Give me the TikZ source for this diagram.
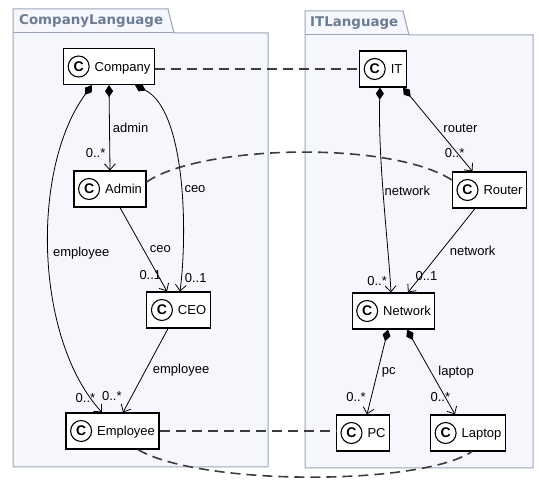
\documentclass[tikz,border=0pt]{standalone}
\usepackage{fontspec}
\setmainfont{Liberation Sans}
\newfontfamily\pkgfont{DejaVu Sans}
\usetikzlibrary{arrows.meta}
\definecolor{pkgFill}{HTML}{F6F7FC}
\definecolor{pkgLine}{HTML}{9AA6B8}
\definecolor{pkgText}{HTML}{6B7C93}
\definecolor{linkGray}{HTML}{3C3C3C}
\newcommand{\classicon}{\tikz[baseline=(ic.base)]\node[circle,draw,line width=1.1pt,fill=white,inner sep=0pt,minimum size=21pt,font=\fontsize{14}{14}\bfseries\selectfont] (ic) {C};}

\begin{document}
\begin{tikzpicture}[x=1pt,y=-1pt,>=latex,
  class/.style={draw, line width=1.2pt, fill=white, minimum height=36pt, inner xsep=4pt, font=\fontsize{13}{15}\selectfont},
  lbl/.style={font=\fontsize{13}{15}\selectfont, inner sep=1pt},
  comp/.style={{Diamond[length=12pt,width=8pt]}-{Straight Barb[length=6pt,width=11pt]}, line width=0.8pt},
  assoc/.style={-{Straight Barb[length=6pt,width=11pt]}, line width=0.8pt},
  trace/.style={draw=linkGray, line width=1.6pt, dash pattern=on 10pt off 6pt},
  pkg/.style={draw=pkgLine, fill=pkgFill, line width=1pt},
  pkgtitle/.style={anchor=west, inner sep=0pt, text=pkgText, font=\pkgfont\bfseries\fontsize{13.4}{15}\selectfont}]
  \useasboundingbox (0,0) rectangle (539,481);
  % packages
  \draw[pkg] (13,467) -- (13,9) -- (168,9) -- (174,33) -- (268,33) -- (268,467) -- cycle;
  \draw[pkg] (13,33) -- (174,33);
  \node[pkgtitle] (companyTitle) at (19,21) {CompanyLanguage};
  \draw[pkg] (305,468) -- (305,11) -- (403,11) -- (409,35) -- (533,35) -- (533,468) -- cycle;
  \draw[pkg] (305,35) -- (409,35);
  \node[pkgtitle] (itTitle) at (310,23) {ITLanguage};
  % classes
  \node[class] (company) at (109,66.5) {\classicon\hspace{5pt}Company};
  \node[class] (admin) at (110,189) {\classicon\hspace{5pt}Admin};
  \node[class] (ceo) at (178.5,310) {\classicon\hspace{5pt}CEO};
  \node[class] (employee) at (112.5,431) {\classicon\hspace{5pt}Employee};
  \node[class] (it) at (383,69) {\classicon\hspace{5pt}IT};
  \node[class] (router) at (489.5,190) {\classicon\hspace{5pt}Router};
  \node[class] (network) at (393.5,311) {\classicon\hspace{5pt}Network};
  \node[class] (pc) at (363,433) {\classicon\hspace{5pt}PC};
  \node[class] (laptop) at (468,433) {\classicon\hspace{5pt}Laptop};
  % company links
  \draw[comp] (company.south) -- node[lbl,pos=.5,anchor=west,xshift=2pt] (adminRole) {admin} node[lbl,pos=.8,anchor=east,xshift=-3pt] (adminMult) {0..*} (admin.north);
  \draw[comp] ([xshift=26pt]company.south) .. controls (185,110) and (188,230) .. node[lbl,pos=.56,anchor=west,xshift=2pt] (ceoRole) {ceo} node[lbl,pos=.93,anchor=west,xshift=2pt] (ceoMult) {0..1} ([xshift=1.5pt]ceo.north);
  \draw[comp] ([xshift=-17pt]company.south) .. controls (30,170) and (35,340) .. node[lbl,pos=.5,anchor=west,xshift=3pt] (empRole) {employee} node[lbl,pos=.94,anchor=east,xshift=6pt] (empMult) {0..*} ([xshift=-10.5pt]employee.north);
  \draw[assoc] ([xshift=10pt]admin.south) -- node[lbl,pos=.5,anchor=west,xshift=5pt] (adminCeoRole) {ceo} node[lbl,pos=.8,anchor=east,xshift=5pt] (adminCeoMult) {0..1} ([xshift=-11.5pt]ceo.north);
  \draw[assoc] ([xshift=-10.5pt]ceo.south) -- node[lbl,pos=.5,anchor=west,xshift=6pt] (ceoEmpRole) {employee} node[lbl,pos=.8,anchor=east,xshift=-9pt] (ceoEmpMult) {0..*} ([xshift=10.5pt]employee.north);
  % it links
  \draw[comp] ([xshift=20pt]it.south) -- node[lbl,pos=.49,anchor=west,xshift=5pt] (routerRole) {router} node[lbl,pos=.786,xshift=-3pt] (routerMult) {0..*} ([xshift=-17pt]router.north);
  \draw[comp] ([xshift=-3pt]it.south) .. controls (378,160) and (388,240) .. node[lbl,pos=.47,anchor=west] (netRole) {network} node[lbl,pos=.93,anchor=east,xshift=-2pt] (netMult) {0..*} ([xshift=-2.5pt]network.north);
  \draw[assoc] ([xshift=-14.5pt]router.south) -- node[lbl,pos=.5,anchor=west,xshift=7pt] (routerNetRole) {network} node[lbl,pos=.8,xshift=5pt] (routerNetMult) {0..1} ([xshift=14.5pt]network.north);
  \draw[comp] ([xshift=-5.5pt]network.south) -- node[lbl,pos=.5,anchor=west,xshift=3pt] (pcRole) {pc} node[lbl,pos=.8,anchor=east,xshift=-4pt] (pcMult) {0..*} ([xshift=4pt]pc.north);
  \draw[comp] ([xshift=13.5pt]network.south) -- node[lbl,pos=.5,anchor=west,xshift=6pt] (laptopRole) {laptop} node[lbl,pos=.8,xshift=-5pt] (laptopMult) {0..*} ([xshift=-13pt]laptop.north);
  % traces between the languages
  \draw[trace] (company.east |- it.west) -- (it.west);
  \draw[trace] ([yshift=7pt]admin.east) .. controls (200,145) and (390,140) .. ([yshift=10pt]router.west);
  \draw[trace] (employee.east) -- (employee.east -| pc.west);
  \draw[trace] ([xshift=25.5pt]employee.south) .. controls (200,486) and (420,486) .. ([xshift=4pt]laptop.south);
\end{tikzpicture}
\end{document}
